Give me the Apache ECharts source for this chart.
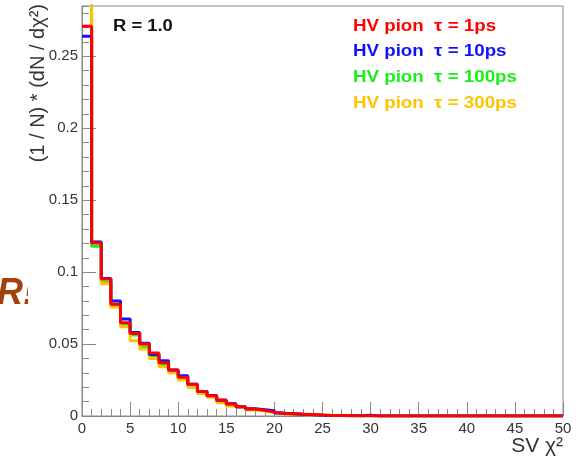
<!DOCTYPE html>
<html><head><meta charset="utf-8">
<script src="https://cdn.jsdelivr.net/npm/echarts@6/dist/echarts.min.js"></script>
<style>html,body{margin:0;padding:0;background:#fff}#c{width:576px;height:458px}</style>
</head><body><div id="c"></div>
<script>
// bin low edges 0..49, width 1
const binEdges = Array.from({length: 51}, (_, i) => i);
const red = [0.271,0.1203,0.0953,0.0776,0.0648,0.0574,0.050,0.0438,0.037,0.032,0.027,0.022,0.017,0.0141,0.0111,0.0083,0.0065,0.0049,0.0040,0.0027,0.0018,0.0016,0.0013,0.0010,0.0007,0.0004,0.0003,0.0002,0.0002,0.0001,0,0,0,0,0,0,0,0,0,0,0,0,0,0,0,0,0,0,0,0];
const blue = [0.264,0.121,0.0955,0.0799,0.0674,0.0581,0.0505,0.0428,0.0384,0.032,0.028,0.022,0.017,0.0143,0.011,0.0085,0.0065,0.005,0.0044,0.0037,0.002,0.0016,0.0012,0.0009,0.0006,0.0004,0.0003,0.0002,0.0002,0.0005,0,0,0,0,0,0,0,0,0,0,0,0,0,0,0,0,0,0,0,0];
const green = [0.30,0.118,0.093,0.077,0.0639,0.0563,0.048,0.0412,0.0358,0.031,0.0255,0.020,0.016,0.0135,0.0105,0.0085,0.0062,0.0047,0.0038,0.0027,0.0017,0.0014,0.0011,0.0008,0.0006,0.0004,0.0004,0.0003,0.0001,0.0001,0,0,0,0,0,0,0,0,0,0,0,0,0,0,0,0,0,0,0,0];
const yellow = [0.32,0.121,0.092,0.0757,0.062,0.0523,0.0465,0.040,0.0342,0.030,0.025,0.020,0.0157,0.013,0.0092,0.007,0.0057,0.0042,0.0035,0.0025,0.0015,0.0012,0.001,0.0008,0.0005,0.0004,0.0003,0.0003,0.0002,0.0001,0,0,0,0,0,0,0,0,0,0,0,0,0,0,0,0,0,0,0,0];
const seriesNames = ['HV pion  \u03c4 = 1ps','HV pion  \u03c4 = 10ps','HV pion  \u03c4 = 100ps','HV pion  \u03c4 = 300ps'];
const seriesColors = ['#ff0000','#1010ff','#18f018','#ffc400'];
const xTickLabels = ['0','5','10','15','20','25','30','35','40','45','50'];

function histData(vals){
  const d = vals.map((v,i)=>[binEdges[i], v]);
  d.push([binEdges[vals.length], vals[vals.length-1]]);
  return d;
}
const allVals = [red, blue, green, yellow];
const FONT = 'Liberation Sans, Arial, sans-serif';
const chart = echarts.init(document.getElementById('c'));
const drawOrder = [2,3,1,0];
const series = drawOrder.map(k => ({
  name: seriesNames[k], type: 'line', step: 'end', symbol: 'none',
  data: histData(allVals[k]), clip: true,
  lineStyle: {color: seriesColors[k], width: 3}, itemStyle:{color: seriesColors[k]},
  animation: false
}));
const grid = {left: 82, right: 13, top: 6, bottom: 42, show: true, borderColor: '#8a8a8a', borderWidth: 1};
chart.setOption({
  animation: false,
  grid: grid,
  xAxis: {
    type: 'value', min: 0, max: 50, interval: 5,
    axisLine: {lineStyle: {color: '#8a8a8a', width: 1}},
    axisTick: {inside: true, length: 14, lineStyle: {color: '#8a8a8a'}},
    minorTick: {show: true, splitNumber: 5, length: 7, lineStyle: {color: '#8a8a8a'}},
    splitLine: {show: false},
    axisLabel: {fontFamily: FONT, fontSize: 15, color: '#333', margin: 5,
      formatter: (v) => xTickLabels[Math.round(v/5)] }
  },
  yAxis: [{
    type: 'value', min: 0, max: 0.285, interval: 0.05,
    axisLine: {show: true, lineStyle: {color: '#8a8a8a', width: 1}},
    axisTick: {inside: true, length: 14, lineStyle: {color: '#8a8a8a'}},
    splitLine: {show: false},
    axisLabel: {fontFamily: FONT, fontSize: 15, color: '#333', margin: 4, showMaxLabel: false,
      formatter: (v) => (v === 0 ? '0' : String(+v.toFixed(2)))}
  },{
    type: 'value', min: 0, max: 0.285, interval: 0.01, position: 'left',
    axisLine: {show: false},
    axisTick: {inside: true, length: 7, lineStyle: {color: '#8a8a8a'}},
    splitLine: {show: false},
    axisLabel: {show: false}
  }],
  series: series,
  graphic: [
    {type: 'text', x: 38, y: 4, rotation: Math.PI/2,
      style: {text: '(1 / N) * (dN / d\u03c7\u00b2)', font: '20px ' + FONT, fill: '#333', textAlign: 'right', textVerticalAlign: 'middle'}},
    {type: 'text', x: 563, y: 446,
      style: {text: 'SV \u03c7\u00b2', font: '21px ' + FONT, fill: '#333', textAlign: 'right', textVerticalAlign: 'middle'}},
    {type: 'text', x: 113, y: 27, scaleX: 1.15,
      style: {text: 'R = 1.0', font: 'bold 16px ' + FONT, fill: '#111', textAlign: 'left', textVerticalAlign: 'middle'}},
    {type: 'text', x: 353, y: 27, scaleX: 1.17,
      style: {text: seriesNames[0], font: 'bold 16px ' + FONT, fill: seriesColors[0], textVerticalAlign: 'middle'}},
    {type: 'text', x: 353, y: 52, scaleX: 1.17,
      style: {text: seriesNames[1], font: 'bold 16px ' + FONT, fill: seriesColors[1], textVerticalAlign: 'middle'}},
    {type: 'text', x: 353, y: 77.5, scaleX: 1.17,
      style: {text: seriesNames[2], font: 'bold 16px ' + FONT, fill: seriesColors[2], textVerticalAlign: 'middle'}},
    {type: 'text', x: 353, y: 103.5, scaleX: 1.17,
      style: {text: seriesNames[3], font: 'bold 16px ' + FONT, fill: seriesColors[3], textVerticalAlign: 'middle'}},
    {type: 'text', x: -3, y: 294,
      style: {text: 'R!', font: 'italic bold 36px ' + FONT, fill: '#a3400c', textVerticalAlign: 'middle'}},
    {type: 'rect', shape: {x: 28, y: 270, width: 20, height: 50}, style: {fill: '#fff'}}
  ]
});
</script></body></html>
